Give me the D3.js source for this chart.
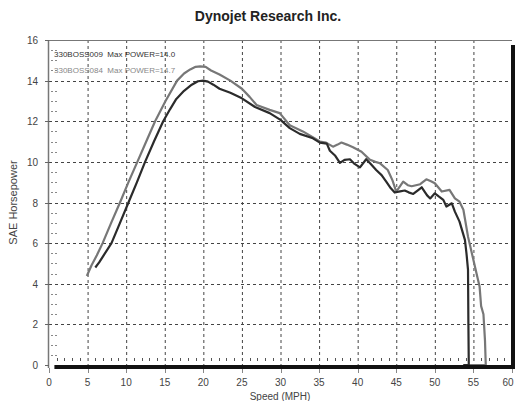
<!DOCTYPE html>
<html><head><meta charset="utf-8">
<script src="https://cdn.jsdelivr.net/npm/d3@7/dist/d3.min.js"></script>
<style>body{margin:0;background:#fff;} text{font-family:"Liberation Sans",Arial,sans-serif;}</style>
</head><body><svg id="c" width="515" height="401"></svg>
<script>
const title = "Dynojet Research Inc.";
const xLabel = "Speed (MPH)";
const yLabel = "SAE Horsepower";
const xTicks = [0,5,10,15,20,25,30,35,40,45,50,55,60];
const yTicks = [0,2,4,6,8,10,12,14,16];
const legendLabels = ["330BOSS009  Max POWER=14.0", "330BOSS084  Max POWER=14.7"];

const speed009 = [6.0,6.5,7.0,8.1,9.2,10.3,11.4,12.45,13.6,14.8,15.7,16.5,17.5,18.5,19.3,20.0,20.6,21.3,22.1,23.5,25.0,26.7,28.6,30.0,31.2,32.5,34.2,35.1,36.0,36.4,37.1,37.7,38.3,39.0,39.6,40.3,41.1,41.7,42.4,43.1,43.7,44.3,44.8,45.5,46.1,46.6,47.2,47.8,48.3,49.0,49.4,50.0,50.5,51.1,51.5,52.2,52.6,53.2,53.9,54.1,54.3,54.35,54.4,53.7];
const hp009 = [4.8,5.05,5.35,6.0,7.0,8.0,9.0,10.0,11.0,12.0,12.6,13.1,13.5,13.8,13.97,14.0,13.95,13.8,13.6,13.4,13.13,12.7,12.4,12.07,11.66,11.38,11.16,10.95,10.9,10.55,10.3,9.95,10.1,10.13,9.9,9.73,10.13,9.9,9.6,9.35,9.03,8.7,8.49,8.55,8.59,8.5,8.42,8.6,8.75,8.35,8.2,8.45,8.3,8.13,7.8,7.96,7.55,7.06,6.16,5.5,4.68,2.0,0,0];

const speed084 = [4.9,5.5,6.2,6.95,8.0,9.2,10.3,11.45,12.6,13.75,15.1,16.6,17.5,18.3,19.0,19.6,20.3,21.0,22.1,23.5,25.0,26.0,26.9,28.6,29.9,31.2,32.9,34.4,35.1,35.9,36.8,37.4,37.9,38.6,39.4,40.5,41.6,42.3,42.9,43.9,44.5,45.0,45.9,46.5,47.0,48.1,48.9,49.5,50.0,50.9,51.9,52.6,53.2,53.7,54.3,55.0,55.6,55.8,56.0,56.3,56.5,56.6,53.7];
const hp084 = [4.38,4.9,5.4,6.0,6.95,8.0,9.0,10.0,11.0,12.0,13.0,14.0,14.35,14.55,14.68,14.7,14.68,14.5,14.3,14.0,13.6,13.2,12.8,12.56,12.4,11.8,11.5,11.16,11.0,10.95,10.75,10.85,10.95,10.85,10.72,10.5,10.1,10.0,9.93,9.6,9.1,8.54,9.03,8.85,8.8,8.9,9.14,9.05,8.95,8.54,8.62,8.2,8.04,7.64,6.32,5.17,4.19,3.86,2.9,2.5,1.2,0,0];

const svg = d3.select("#c");
const x = d3.scaleLinear().domain([0,60]).range([49,512]);
const y = d3.scaleLinear().domain([0,16]).range([365,40]);

// grid
const gridColor = "#444";
svg.append("g").selectAll("line").data(xTicks.filter(v=>v>0&&v<60)).join("line")
  .attr("x1",d=>x(d)+0.5).attr("x2",d=>x(d)+0.5).attr("y1",y(16)).attr("y2",y(0))
  .attr("stroke",gridColor).attr("stroke-width",1).attr("stroke-dasharray","3,3");
svg.append("g").selectAll("line").data(yTicks.filter(v=>v>0&&v<16)).join("line")
  .attr("x1",x(0)).attr("x2",x(60)).attr("y1",d=>Math.round(y(d))+0.5).attr("y2",d=>Math.round(y(d))+0.5)
  .attr("stroke",gridColor).attr("stroke-width",1).attr("stroke-dasharray","3,3");

// minor y ticks
const minorY = d3.range(0.5,16,0.5).filter(v=>v%2!==0);
svg.append("g").selectAll("line").data(minorY).join("line")
  .attr("x1",x(0)+2).attr("x2",x(0)+8).attr("y1",d=>Math.round(y(d))+0.5).attr("y2",d=>Math.round(y(d))+0.5)
  .attr("stroke","#888").attr("stroke-width",1).attr("stroke-dasharray","2,2");

// minor x ticks near zero
const minorX = d3.range(1,60,1).filter(v=>v%5!==0);
svg.append("g").selectAll("line").data(minorX).join("line")
  .attr("x1",d=>Math.round(x(d))+0.5).attr("x2",d=>Math.round(x(d))+0.5).attr("y1",y(0)-7).attr("y2",y(0)-4)
  .attr("stroke","#555").attr("stroke-width",1);

// frame
svg.append("line").attr("x1",x(0)-1).attr("x2",x(60)).attr("y1",y(16)+0.5).attr("y2",y(16)+0.5).attr("stroke","#777").attr("stroke-width",1);
svg.append("line").attr("x1",x(0)-0.5).attr("x2",x(0)-0.5).attr("y1",y(16)).attr("y2",y(0)+3).attr("stroke","#777").attr("stroke-width",1.5);

// y major tick dashes
svg.append("g").selectAll("line").data(yTicks).join("line")
  .attr("x1",x(0)-4).attr("x2",x(0)).attr("y1",d=>Math.round(y(d))+0.5).attr("y2",d=>Math.round(y(d))+0.5)
  .attr("stroke","#666").attr("stroke-width",1);

// x tick marks below
svg.append("g").selectAll("line").data(xTicks).join("line")
  .attr("x1",d=>Math.round(x(d))+0.5).attr("x2",d=>Math.round(x(d))+0.5).attr("y1",y(0)+3).attr("y2",y(0)+8)
  .attr("stroke","#888").attr("stroke-width",1);

// lines
const line = d3.line().x(d=>x(d[0])).y(d=>y(d[1]));
svg.append("path").datum(speed084.map((s,i)=>[s,hp084[i]])).attr("d",line)
  .attr("fill","none").attr("stroke","#777").attr("stroke-width",2.2).attr("stroke-linejoin","round");
svg.append("path").datum(speed009.map((s,i)=>[s,hp009[i]])).attr("d",line)
  .attr("fill","none").attr("stroke","#2b2b2b").attr("stroke-width",2.2).attr("stroke-linejoin","round");

// thick black bars
svg.append("rect").attr("x",x(0.7)).attr("y",y(0)).attr("width",x(60)-x(0.7)+2).attr("height",4).attr("fill","#111");
svg.append("rect").attr("x",x(60)-1).attr("y",y(16)+5).attr("width",4).attr("height",y(0)-y(16)-1).attr("fill","#111");

// tick labels
svg.append("g").selectAll("text").data(yTicks).join("text")
  .attr("x",38).attr("y",d=>y(d)+4).attr("text-anchor","end").attr("font-size",10).attr("fill","#444").text(d=>d);
svg.append("g").selectAll("text").data(xTicks).join("text")
  .attr("x",d=>Math.min(x(d),508)).attr("y",386).attr("text-anchor","middle").attr("font-size",10).attr("fill","#444").text(d=>d);

// axis titles
svg.append("text").attr("x",280).attr("y",400).attr("text-anchor","middle").attr("font-size",10).attr("fill","#444").text(xLabel);
svg.append("text").attr("transform","translate(17,"+((y(0)+y(16))/2)+") rotate(-90)").attr("text-anchor","middle").attr("font-size",11).attr("fill","#444").text(yLabel);

// title
svg.append("text").attr("x",268).attr("y",21).attr("text-anchor","middle").attr("font-size",14).attr("font-weight","bold").attr("fill","#222").text(title);

// legend
svg.append("g").selectAll("text").data(legendLabels).join("text")
  .attr("x",54).attr("y",(d,i)=>57+i*15.5).attr("font-size",8).attr("fill",(d,i)=>i===0?"#333":"#888")
  .attr("xml:space","preserve").style("white-space","pre").text(d=>d);
</script></body></html>
